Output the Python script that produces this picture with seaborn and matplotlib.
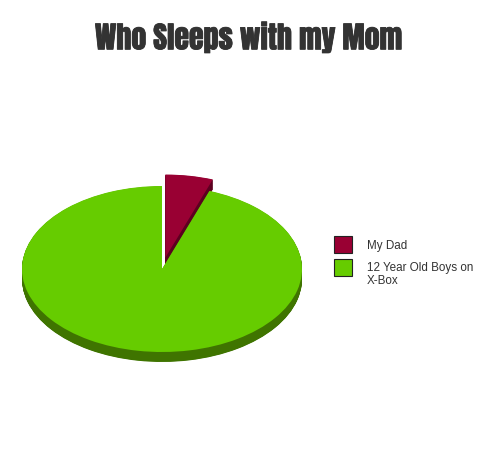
import numpy as np
import matplotlib
matplotlib.use("Agg")
import matplotlib.pyplot as plt
import matplotlib.patheffects as pe
from matplotlib.patches import Rectangle
import seaborn as sns

# data
labels = ["My Dad", "12 Year Old Boys on\nX-Box"]
shares = [5.5, 94.5]
top_colors = ["#990033", "#66cc00"]
side_colors = ["#5c0020", "#3f7400"]
explode = [0.14, 0]

sns.set_style("white")
plt.rcParams["font.family"] = ["Liberation Sans", "DejaVu Sans"]

W, H = 500, 466
fig = plt.figure(figsize=(W / 100, H / 100), dpi=100)
ax = fig.add_axes([0.016, 0.1912, 0.616, 0.4453])

# fake 3d: stack darker copies of the pie below the top face
depth = 0.12
for off in np.linspace(depth, 0.005, 25):
    ax.pie(shares, colors=side_colors, explode=explode, startangle=90,
           counterclock=False, center=(0, -off),
           wedgeprops=dict(linewidth=0), frame=False)
wedges, _ = ax.pie(shares, colors=top_colors, explode=explode, startangle=90,
                   counterclock=False, wedgeprops=dict(linewidth=0), frame=False)
ax.set_aspect("auto")
ax.set_xlim(-1.1, 1.1)
ax.set_ylim(-1.3, 1.2)
ax.axis("off")

# legend, drawn by hand so the square sits by the first line of text
box_tops = [236, 259]
for lab, col, top in zip(labels, top_colors, box_tops):
    fig.add_artist(Rectangle((334 / W, 1 - (top + 17) / H), 18 / W, 17 / H,
                             facecolor=col, edgecolor="#222222", linewidth=0.8,
                             transform=fig.transFigure))
    fig.text(367 / W, 1 - (top + 3.5) / H, lab, ha="left", va="top",
             fontsize=8.4, color="#333333", linespacing=1.05)

# title in a heavy condensed face, fitted to the reference width
title = fig.text(95 / W, 1 - 49.3 / H, "Who Sleeps with my Mom", ha="left", va="baseline",
                 fontsize=22, color="#333333",
                 family=["Anton", "Oswald", "Bebas Neue", "Liberation Sans Narrow", "DejaVu Sans"],
                 path_effects=[pe.withStroke(linewidth=0.6, foreground="#333333")])
r = fig.canvas.get_renderer()
w = title.get_window_extent(r).width
title.set_fontsize(22 * 307 / w)

fig.savefig("out.png", dpi=100)
